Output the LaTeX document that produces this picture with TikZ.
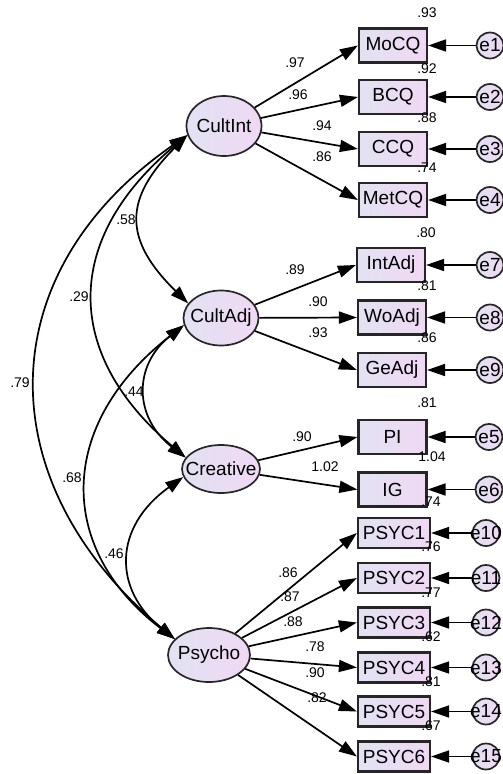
\documentclass[tikz,border=0pt]{standalone}
\usepackage{fontspec}
\setmainfont{Liberation Sans}
\usetikzlibrary{arrows.meta,shapes.geometric}
\definecolor{fillL}{RGB}{226,226,242}
\definecolor{fillR}{RGB}{240,216,244}
\newcommand\myNodeFont{\fontsize{19}{22}\selectfont}
\newcommand\myNumFont{\fontsize{14}{16}\selectfont}
\tikzset{
  lat/.style={ellipse, draw=black!85, line width=1.7pt, left color=fillL, right color=fillR, inner sep=0pt, font=\myNodeFont},
  obs/.style={rectangle, draw=black!85, line width=2.2pt, left color=fillL, right color=fillR, inner sep=0pt, minimum width=68pt, minimum height=34pt, font=\myNodeFont},
  obsp/.style={obs, minimum width=72pt, minimum height=30pt},
  err/.style={ellipse, draw=black!85, line width=1.7pt, left color=fillL, right color=fillR, inner sep=0pt, minimum width=27pt, minimum height=26pt, font=\myNodeFont},
  lab/.style={font=\myNumFont, inner sep=0pt},
  load/.style={-{Triangle[length=18pt,width=12pt]}, line width=1.7pt},
  cov/.style={{Triangle[length=18pt,width=12pt]}-{Triangle[length=18pt,width=12pt]}, line width=1.7pt}
}
\begin{document}
\begin{tikzpicture}[x=1pt,y=-1pt]
\useasboundingbox (0,0) rectangle (503,774);
% latent variables
\node[lat, minimum width=75pt, minimum height=60pt] (CultInt) at (224,126) {\makebox[0pt]{CultInt}};
\node[lat, minimum width=75pt, minimum height=55pt] (CultAdj) at (221,318) {\makebox[0pt]{CultAdj}};
\node[lat, minimum width=78pt, minimum height=48pt] (Creative) at (221,469) {\makebox[0pt]{Creative}};
\node[lat, minimum width=82pt, minimum height=54pt] (Psycho) at (209,655) {\makebox[0pt]{Psycho}};
% observed variables
\node[obs] (MoCQ) at (393,45.5) {MoCQ};
\node[obs] (BCQ) at (393,97) {BCQ};
\node[obs] (CCQ) at (393,149) {CCQ};
\node[obs] (MetCQ) at (393,200) {MetCQ};
\node[obs] (IntAdj) at (391,265) {IntAdj};
\node[obs] (WoAdj) at (392,317.5) {WoAdj};
\node[obs] (GeAdj) at (392,370) {GeAdj};
\node[obs] (PI) at (392.5,437) {PI};
\node[obs] (IG) at (392.5,489.5) {IG};
\node[obsp] (P1) at (394,533) {PSYC1};
\node[obsp] (P2) at (394,578) {PSYC2};
\node[obsp] (P3) at (394,622.5) {PSYC3};
\node[obsp] (P4) at (394,667.5) {PSYC4};
\node[obsp] (P5) at (394,711.5) {PSYC5};
\node[obsp] (P6) at (394,756.5) {PSYC6};
% errors
\node[err] (e1) at (490,45.5) {\makebox[0pt]{e1}};
\node[err] (e2) at (490,97) {\makebox[0pt]{e2}};
\node[err] (e3) at (490,149) {\makebox[0pt]{e3}};
\node[err] (e4) at (490,200) {\makebox[0pt]{e4}};
\node[err] (e7) at (490,265) {\makebox[0pt]{e7}};
\node[err] (e8) at (490,317.5) {\makebox[0pt]{e8}};
\node[err] (e9) at (490,370) {\makebox[0pt]{e9}};
\node[err] (e5) at (489,437) {\makebox[0pt]{e5}};
\node[err] (e6) at (489,489.5) {\makebox[0pt]{e6}};
\node[err] (e10) at (486,533) {\makebox[0pt]{e10}};
\node[err] (e11) at (486,578) {\makebox[0pt]{e11}};
\node[err] (e12) at (486,622.5) {\makebox[0pt]{e12}};
\node[err] (e13) at (486,667.5) {\makebox[0pt]{e13}};
\node[err] (e14) at (486,711.5) {\makebox[0pt]{e14}};
\node[err] (e15) at (486,756.5) {\makebox[0pt]{e15}};
% loadings
\foreach \a/\b in {CultInt/MoCQ,CultInt/BCQ,CultInt/CCQ,CultInt/MetCQ,CultAdj/IntAdj,CultAdj/WoAdj,CultAdj/GeAdj,Creative/PI,Creative/IG,Psycho/P1,Psycho/P2,Psycho/P3,Psycho/P4,Psycho/P5,Psycho/P6}
  \draw[load] (\a) -- (\b.west);
% error paths
\foreach \a/\b in {e1/MoCQ,e2/BCQ,e3/CCQ,e4/MetCQ,e7/IntAdj,e8/WoAdj,e9/GeAdj,e5/PI,e6/IG,e10/P1,e11/P2,e12/P3,e13/P4,e14/P5,e15/P6}
  \draw[load] (\a) -- (\b.east);
% covariances
\draw[cov] (CultInt.194) .. controls +(-64,64) and +(-65,-64) .. (CultAdj.156);
\draw[cov] (CultInt.194) .. controls +(-124,104) and +(-123,-104) .. (Creative.162);
\draw[cov] (CultInt.194) .. controls +(-200,139) and +(-186,-156) .. (Psycho.155);
\draw[cov] (CultAdj.191) .. controls +(-51,40) and +(-52,-40) .. (Creative.162);
\draw[cov] (CultAdj.191) .. controls +(-128,100) and +(-118,-90) .. (Psycho.155);
\draw[cov] (Creative.192) .. controls +(-70,50) and +(-62,-50) .. (Psycho.155);
% covariance labels
\node[lab] (c58) at (126,220) {.58};
\node[lab] (c29) at (79,297) {.29};
\node[lab] (c79) at (20,383) {.79};
\node[lab] (c44) at (134,392) {.44};
\node[lab] (c68) at (72,478) {.68};
\node[lab] (c46) at (114,554) {.46};
% loading labels
\node[lab] (l1) at (295,63) {.97};
\node[lab] (l2) at (298,95) {.96};
\node[lab] (l3) at (322,126) {.94};
\node[lab] (l4) at (322,157) {.86};
\node[lab] (l7) at (295,270) {.89};
\node[lab] (l8) at (318,302) {.90};
\node[lab] (l9) at (318,333) {.93};
\node[lab] (l5) at (302,437) {.90};
\node[lab] (l6) at (325,467) {1.02};
\node[lab] (l10) at (288,573) {.86};
\node[lab] (l11) at (290,597) {.87};
\node[lab] (l12) at (293,622) {.88};
\node[lab] (l13) at (315,647) {.78};
\node[lab] (l14) at (315,673) {.90};
\node[lab] (l15) at (317,698) {.82};
% squared multiple correlations
\node[lab] (r1) at (427,12.5) {.93};
\node[lab] (r2) at (427,69) {.92};
\node[lab] (r3) at (427,118) {.88};
\node[lab] (r4) at (427,168) {.74};
\node[lab] (r7) at (426,233) {.80};
\node[lab] (r8) at (427,286) {.81};
\node[lab] (r9) at (427,338) {.86};
\node[lab] (r5) at (427,403) {.81};
\node[lab] (r6) at (432,457) {1.04};
\node[lab] (r10) at (431,502) {.74};
\node[lab] (r11) at (431,547) {.76};
\node[lab] (r12) at (431,593) {.77};
\node[lab] (r13) at (431,637) {.62};
\node[lab] (r14) at (431,682) {.81};
\node[lab] (r15) at (431,726) {.67};
\end{tikzpicture}
\end{document}
